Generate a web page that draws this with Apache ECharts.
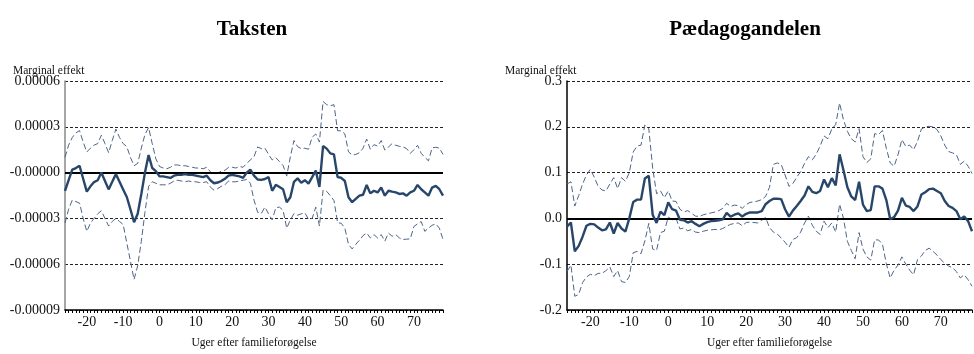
<!DOCTYPE html>
<html><head><meta charset="utf-8">
<script src="https://cdn.jsdelivr.net/npm/echarts@6/dist/echarts.min.js"></script>
<style>html,body{margin:0;padding:0;background:#fff}#c{width:974px;height:354px}</style>
</head><body><div id="c"></div>
<script>
// Weeks after family extension (x categories)
const weeks = [-26,-25,-24,-23,-22,-21,-20,-19,-18,-17,-16,-15,-14,-13,-12,-11,-10,-9,-8,-7,-6,-5,-4,-3,-2,-1,
0,1,2,3,4,5,6,7,8,9,10,11,12,13,14,15,16,17,18,19,20,21,22,23,24,25,26,27,28,29,30,31,32,33,34,35,36,37,38,39,
40,41,42,43,44,45,46,47,48,49,50,51,52,53,54,55,56,57,58,59,60,61,62,63,64,65,66,67,68,69,70,71,72,73,74,75,76,77,78];
const xTickLabels = [-20,-10,0,10,20,30,40,50,60,70];

// Panel 1: Taksten
const taksEffect = [-1.2e-5,-0.5e-5,0.2e-5,0.3e-5,0.45e-5,-0.4e-5,-1.25e-5,-0.9e-5,-0.62e-5,-0.5e-5,0,-0.55e-5,-1.1e-5,-0.6e-5,-0.1e-5,-0.6e-5,-1.1e-5,-1.6e-5,-2.4e-5,-3.25e-5,-2.7e-5,-1.4e-5,0,1.15e-5,0.3e-5,0.1e-5,
-0.25e-5,-0.25e-5,-0.3e-5,-0.35e-5,-0.2e-5,-0.15e-5,-0.15e-5,-0.1e-5,-0.15e-5,-0.15e-5,
-0.2e-5,-0.25e-5,-0.3e-5,-0.2e-5,-0.5e-5,-0.7e-5,-0.65e-5,-0.55e-5,-0.4e-5,-0.2e-5,
-0.15e-5,-0.2e-5,-0.25e-5,-0.34e-5,0,0.2e-5,-0.2e-5,-0.45e-5,-0.48e-5,-0.42e-5,
-0.3e-5,-1.19e-5,-0.8e-5,-0.94e-5,-1.09e-5,-1.94e-5,-1.62e-5,-0.6e-5,-0.38e-5,-0.66e-5,
-0.5e-5,-0.72e-5,-0.3e-5,0.13e-5,-0.94e-5,1.74e-5,1.57e-5,1.26e-5,1.19e-5,-0.3e-5,
-0.34e-5,-0.55e-5,-1.62e-5,-1.94e-5,-1.72e-5,-1.51e-5,-1.45e-5,-0.81e-5,-1.36e-5,-1.19e-5,
-1.3e-5,-0.98e-5,-1.51e-5,-1.19e-5,-1.25e-5,-1.3e-5,-1.4e-5,-1.36e-5,-1.51e-5,-1.3e-5,
-1.19e-5,-0.81e-5,-1.09e-5,-1.3e-5,-1.51e-5,-0.98e-5,-0.87e-5,-1.09e-5,-1.51e-5];
const taksUpper = [1.0e-5,1.8e-5,2.3e-5,2.6e-5,2.75e-5,2.0e-5,1.35e-5,1.6e-5,1.8e-5,1.9e-5,2.45e-5,1.9e-5,1.3e-5,2.1e-5,2.85e-5,2.3e-5,1.9e-5,1.7e-5,1.0e-5,0.45e-5,0.6e-5,1.6e-5,2.5e-5,2.95e-5,1.9e-5,0.9e-5,
0.4e-5,0.3e-5,0.25e-5,0.35e-5,0.5e-5,0.5e-5,0.45e-5,0.45e-5,0.4e-5,0.35e-5,
0.3e-5,0.3e-5,0.25e-5,0.35e-5,0.05e-5,-0.1e-5,-0.05e-5,0.1e-5,0.15e-5,0.34e-5,
0.35e-5,0.3e-5,0.4e-5,0.35e-5,0.6e-5,0.83e-5,1.04e-5,1.68e-5,1.57e-5,1.6e-5,
1.2e-5,0.83e-5,0.98e-5,0.72e-5,0.47e-5,-0.23e-5,1.04e-5,2.1e-5,1.7e-5,1.57e-5,
1.6e-5,1.53e-5,2.32e-5,2.53e-5,2.0e-5,4.66e-5,4.45e-5,4.38e-5,4.45e-5,2.74e-5,
2.74e-5,2.53e-5,1.36e-5,1.15e-5,1.19e-5,1.3e-5,1.6e-5,2.2e-5,1.53e-5,1.83e-5,
1.74e-5,2.1e-5,1.47e-5,1.68e-5,1.9e-5,1.79e-5,1.72e-5,1.68e-5,1.57e-5,1.26e-5,
1.5e-5,1.79e-5,1.26e-5,1.0e-5,0.77e-5,1.62e-5,1.66e-5,1.6e-5,1.19e-5];
const taksLower = [-3.3e-5,-2.4e-5,-1.8e-5,-1.9e-5,-2.0e-5,-3.0e-5,-3.85e-5,-3.3e-5,-3.0e-5,-2.7e-5,-2.5e-5,-3.0e-5,-3.5e-5,-3.2e-5,-3.0e-5,-3.2e-5,-3.4e-5,-4.6e-5,-5.8e-5,-7.0e-5,-6.1e-5,-4.5e-5,-2.6e-5,-0.9e-5,-0.6e-5,-0.7e-5,
-0.8e-5,-0.8e-5,-0.8e-5,-0.7e-5,-0.55e-5,-0.5e-5,-0.55e-5,-0.6e-5,-0.55e-5,-0.6e-5,
-0.6e-5,-0.65e-5,-0.65e-5,-0.6e-5,-0.95e-5,-1.15e-5,-1.05e-5,-0.9e-5,-0.8e-5,-0.55e-5,
-0.6e-5,-0.6e-5,-0.55e-5,-0.5e-5,-0.45e-5,-0.7e-5,-1.8e-5,-2.6e-5,-2.68e-5,-2.26e-5,
-2.7e-5,-3.1e-5,-2.3e-5,-2.26e-5,-2.47e-5,-3.64e-5,-3.1e-5,-2.68e-5,-2.79e-5,-2.7e-5,
-2.64e-5,-3.06e-5,-3.0e-5,-2.26e-5,-3.5e-5,-1.15e-5,-1.23e-5,-1.51e-5,-1.83e-5,-3.28e-5,
-3.32e-5,-3.64e-5,-4.7e-5,-5.0e-5,-4.7e-5,-4.43e-5,-4.13e-5,-3.96e-5,-4.28e-5,-4.06e-5,
-4.28e-5,-4.06e-5,-4.49e-5,-3.96e-5,-4.17e-5,-4.06e-5,-4.28e-5,-4.38e-5,-4.36e-5,-4.34e-5,
-3.53e-5,-3.35e-5,-3.21e-5,-3.85e-5,-3.64e-5,-3.45e-5,-3.36e-5,-3.64e-5,-4.38e-5];

// Panel 2: Pædagogandelen
const paedEffect = [-0.018,-0.009,-0.072,-0.06,-0.04,-0.016,-0.012,-0.013,-0.02,-0.026,-0.024,-0.009,-0.033,-0.01,-0.022,-0.029,0.0,0.036,0.041,0.041,0.087,0.093,0.008,-0.01,0.015,0.007,
0.035,0.02,0.017,-0.003,-0.004,-0.009,-0.006,-0.012,-0.017,-0.012,
-0.008,-0.006,-0.005,-0.004,-0.002,0.012,0.004,0.008,0.011,0.004,
0.01,0.013,0.013,0.013,0.016,0.031,0.038,0.043,0.043,0.042,
0.02,0.004,0.017,0.027,0.038,0.05,0.07,0.058,0.055,0.06,
0.085,0.068,0.088,0.072,0.14,0.105,0.068,0.048,0.04,0.08,
0.03,0.016,0.018,0.07,0.07,0.065,0.04,-0.002,0.003,0.017,
0.045,0.028,0.025,0.016,0.026,0.052,0.057,0.064,0.065,0.06,
0.055,0.038,0.027,0.023,0.016,-0.002,0.004,-0.006,-0.028];
const paedUpper = [0.075,0.08,0.027,0.05,0.075,0.095,0.107,0.09,0.07,0.062,0.06,0.075,0.089,0.065,0.089,0.081,0.1,0.145,0.158,0.16,0.204,0.196,0.11,0.054,0.06,0.045,
0.06,0.038,0.037,0.02,0.014,0.017,0.011,0.005,0.004,0.008,
0.01,0.012,0.014,0.017,0.022,0.033,0.026,0.029,0.028,0.022,
0.03,0.035,0.036,0.038,0.041,0.048,0.068,0.118,0.121,0.118,
0.095,0.07,0.076,0.09,0.102,0.12,0.135,0.128,0.14,0.158,
0.18,0.174,0.195,0.205,0.252,0.215,0.19,0.174,0.167,0.196,
0.135,0.122,0.13,0.185,0.183,0.192,0.153,0.121,0.114,0.139,
0.172,0.157,0.16,0.15,0.168,0.195,0.2,0.201,0.2,0.194,
0.18,0.16,0.146,0.143,0.139,0.118,0.125,0.114,0.098];
const paedLower = [-0.116,-0.102,-0.17,-0.166,-0.14,-0.128,-0.122,-0.125,-0.12,-0.12,-0.114,-0.106,-0.127,-0.114,-0.138,-0.14,-0.127,-0.075,-0.072,-0.077,-0.049,-0.011,-0.067,-0.07,-0.031,-0.028,
0.003,-0.003,0.0,-0.023,-0.021,-0.027,-0.024,-0.03,-0.031,-0.028,
-0.026,-0.025,-0.024,-0.025,-0.022,-0.017,-0.013,-0.011,-0.01,-0.016,
-0.009,-0.008,-0.009,-0.01,-0.004,0.002,-0.02,-0.03,-0.034,-0.043,
-0.052,-0.063,-0.046,-0.042,-0.03,-0.01,0.005,-0.015,-0.028,-0.035,
-0.006,-0.02,-0.01,-0.03,0.031,0.0,-0.05,-0.07,-0.088,-0.031,
-0.067,-0.084,-0.091,-0.047,-0.047,-0.056,-0.099,-0.13,-0.113,-0.102,
-0.084,-0.1,-0.113,-0.123,-0.09,-0.082,-0.07,-0.065,-0.072,-0.08,
-0.09,-0.098,-0.104,-0.108,-0.116,-0.13,-0.123,-0.134,-0.148];

const FONT = 'Liberation Serif';
const mainColor = '#28466a';
const bandColor = '#4d6588';
const pairs = arr => weeks.map((w, i) => [w, arr[i]]);

function xAxisCfg(gi) {
  return {
    type: 'value', gridIndex: gi, min: -26, max: 78,
    axisLine: { show: true, onZero: false, lineStyle: { color: '#000', width: 1.5 } },
    axisTick: { show: true, customValues: weeks, length: 3, lineStyle: { color: '#000', width: 1 } },
    axisLabel: { customValues: xTickLabels, fontFamily: FONT, fontSize: 14, color: '#111', margin: 5 },
    splitLine: { show: false },
    name: 'Uger efter familieforøgelse', nameLocation: 'middle', nameGap: 27,
    nameTextStyle: { fontFamily: FONT, fontSize: 11.5, color: '#111' }
  };
}
function yAxisCfg(gi, min, max, interval, fmt, axisColor) {
  return {
    type: 'value', gridIndex: gi, min: min, max: max, interval: interval,
    axisLine: { show: true, onZero: false, lineStyle: { color: axisColor, width: 1.5 } },
    axisTick: { show: false },
    axisLabel: { formatter: fmt, fontFamily: FONT, fontSize: 14, color: '#111', margin: 5 },
    splitLine: { show: true, lineStyle: { type: [3, 2], color: '#222', width: 1 } }
  };
}
function bandSeries(gi, arr) {
  return {
    type: 'line', xAxisIndex: gi, yAxisIndex: gi, data: pairs(arr), symbol: 'none',
    lineStyle: { color: bandColor, width: 1, type: [6, 3] }, z: 3, silent: true
  };
}
function mainSeries(gi, arr) {
  return {
    type: 'line', xAxisIndex: gi, yAxisIndex: gi, data: pairs(arr), symbol: 'none',
    lineStyle: { color: mainColor, width: 2.4 }, z: 5, silent: true,
    markLine: {
      silent: true, symbol: ['none', 'none'], label: { show: false },
      lineStyle: { color: '#000', type: 'solid', width: 2 },
      data: [{ yAxis: 0 }], z: 4
    }
  };
}

const chart = echarts.init(document.getElementById('c'), null, { renderer: 'canvas' });
chart.setOption({
  animation: false,
  backgroundColor: '#fff',
  title: [
    { text: 'Taksten', left: 247, top: 14, textAlign: 'center',
      textStyle: { fontFamily: FONT, fontSize: 21, fontWeight: 'bold', color: '#000' } },
    { text: 'Pædagogandelen', left: 740, top: 14, textAlign: 'center',
      textStyle: { fontFamily: FONT, fontSize: 21, fontWeight: 'bold', color: '#000' } },
    { text: 'Marginal effekt', left: 8, top: 60,
      textStyle: { fontFamily: FONT, fontSize: 11.5, fontWeight: 'normal', color: '#111' } },
    { text: 'Marginal effekt', left: 500, top: 60,
      textStyle: { fontFamily: FONT, fontSize: 11.5, fontWeight: 'normal', color: '#111' } }
  ],
  grid: [
    { left: 65, right: 531, top: 81, bottom: 38, containLabel: false },
    { left: 567, right: 2, top: 81, bottom: 38, containLabel: false }
  ],
  xAxis: [xAxisCfg(0), xAxisCfg(1)],
  yAxis: [
    yAxisCfg(0, -9e-5, 6e-5, 3e-5, v => (Math.abs(v) < 1e-12 ? '-0.00000' : v.toFixed(5)), '#888'),
    yAxisCfg(1, -0.2, 0.3, 0.1, v => (Math.abs(v) < 1e-9 ? '0.0' : v.toFixed(1)), '#000')
  ],
  series: [
    bandSeries(0, taksUpper), bandSeries(0, taksLower), mainSeries(0, taksEffect),
    bandSeries(1, paedUpper), bandSeries(1, paedLower), mainSeries(1, paedEffect)
  ]
});
</script>
</body></html>
